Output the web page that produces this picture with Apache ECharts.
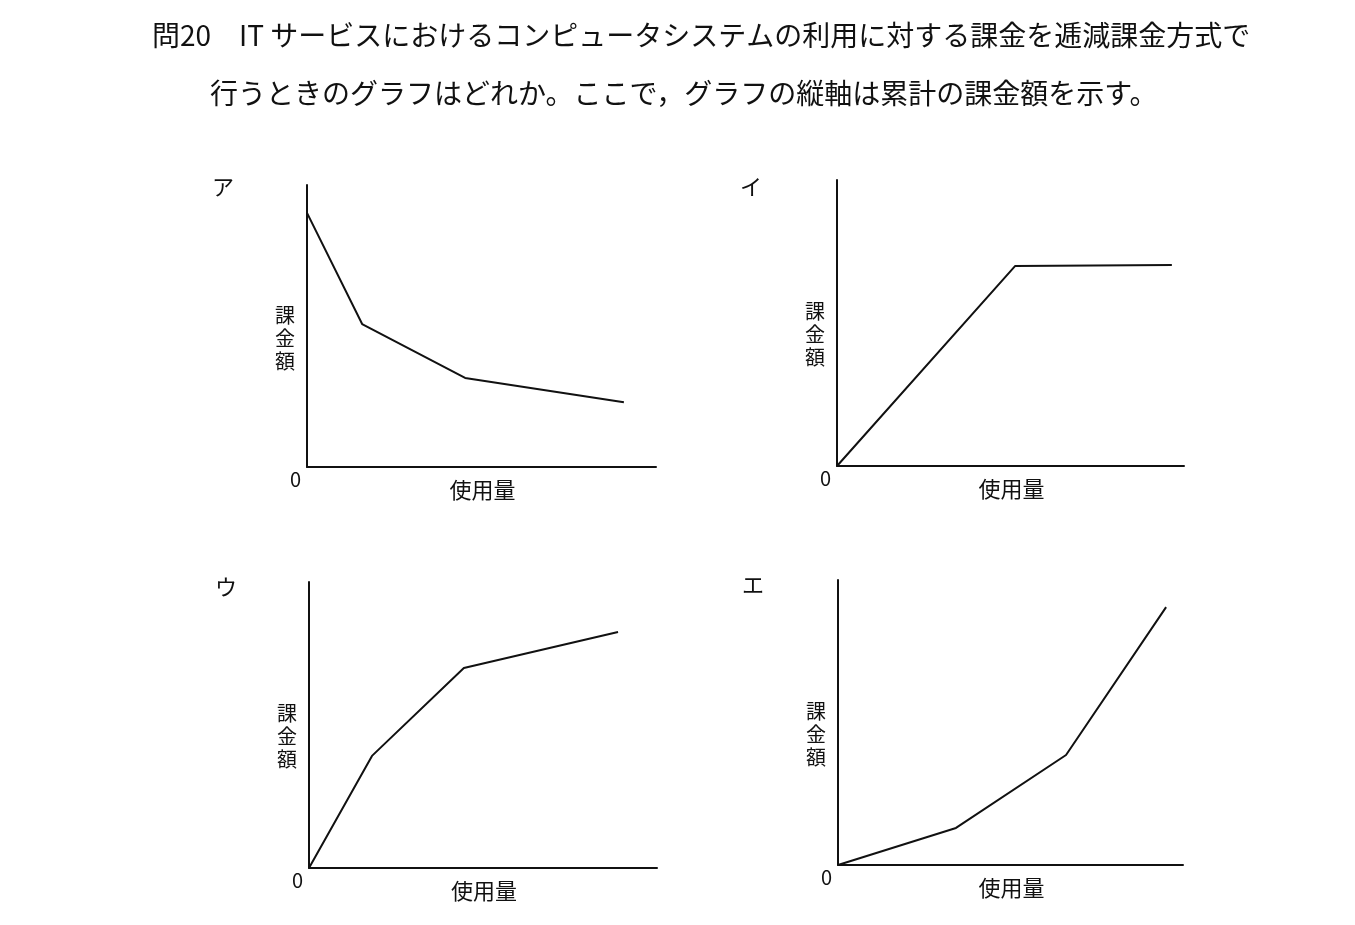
<!DOCTYPE html>
<html><head><meta charset="utf-8">
<script src="https://cdn.jsdelivr.net/npm/echarts@6/dist/echarts.min.js"></script>
<style>html,body{margin:0;background:#fff}#c{width:1355px;height:925px}</style>
</head><body><div id="c"></div>
<script>
const titleLines = ['問20　IT サービスにおけるコンピュータシステムの利用に対する課金を逓減課金方式で','行うときのグラフはどれか。ここで，グラフの縦軸は累計の課金額を示す。'];
const panelLabels = ['ア','イ','ウ','エ'];
const xName = '使用量', yName = '課金額', zeroLabel = '0';
const xA = [0,15.8,45.3,90.8], yA = [90.1,50.7,31.6,23.0];
const xI = [0,51.3,96.5], yI = [0,69.9,70.3];
const xU = [0,18.1,44.5,88.8], yU = [0,39.2,69.9,82.5];
const xE = [0,34.2,66.1,95.1], yE = [0,13.0,38.6,90.5];
const seriesData = [[xA,yA],[xI,yI],[xU,yU],[xE,yE]];
const grids = [
 {left:307,top:185,width:349,height:282},
 {left:837,top:180,width:347,height:286},
 {left:309,top:582,width:348,height:286},
 {left:838,top:580,width:345,height:285}];
const font = '"Noto Sans CJK JP", sans-serif';
const axisLine = {show:true,onZero:false,lineStyle:{color:'#111',width:2}};
const graphic = [];
graphic.push({type:'text',left:152,top:21,style:{text:titleLines[0],font:'28px '+font,fill:'#111'}});
graphic.push({type:'text',left:210,top:79,style:{text:titleLines[1],font:'28px '+font,fill:'#111'}});
const lblPos = [[212,176],[740,176],[215,576],[742,574]];
grids.forEach((g,i)=>{
  graphic.push({type:'text',left:lblPos[i][0],top:lblPos[i][1],style:{text:panelLabels[i],font:'22px '+font,fill:'#111'}});
  graphic.push({type:'text',left:g.left-32,top:g.top+g.height*0.42,style:{text:yName.split('').join('\n'),font:'20px '+font,fill:'#111',lineHeight:23}});
  graphic.push({type:'text',left:g.left-17,top:g.top+g.height+2,style:{text:zeroLabel,font:'20px '+font,fill:'#111'}});
  graphic.push({type:'text',left:g.left+g.width/2-32,top:g.top+g.height+12,style:{text:xName,font:'22px '+font,fill:'#111'}});
});
const option = {
  animation:false,
  grid: grids,
  xAxis: grids.map((g,i)=>({type:'value',gridIndex:i,min:0,max:100,axisLine,axisTick:{show:false},axisLabel:{show:false},splitLine:{show:false}})),
  yAxis: grids.map((g,i)=>({type:'value',gridIndex:i,min:0,max:100,axisLine,axisTick:{show:false},axisLabel:{show:false},splitLine:{show:false}})),
  series: seriesData.map((d,i)=>({type:'line',xAxisIndex:i,yAxisIndex:i,showSymbol:false,lineStyle:{color:'#111',width:2},data:d[0].map((x,j)=>[x,d[1][j]])})),
  graphic
};
echarts.init(document.getElementById('c')).setOption(option);
</script></body></html>
